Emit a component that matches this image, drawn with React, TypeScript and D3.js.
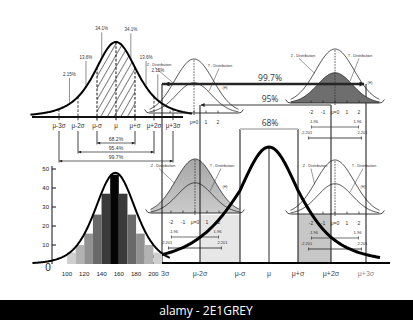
import React from "react";
import * as d3 from "d3";

// ---------- Histogram of observed values ----------
const binStarts = [100, 110, 120, 130, 140, 150, 160, 170, 180, 190, 200];
const binCounts = [6, 10, 16, 26, 37, 47, 37, 26, 16, 10, 6];
const binWidth = 10;
const histYTicks = [10, 20, 30, 40, 50];
const histXTicks = [100, 120, 140, 160, 180, 200];
const histFitMean = 156;
const histFitScale = 24;
const histFitDf = 6;
const histFitPeak = 48;

// ---------- Empirical rule curve ----------
const sigmaSteps = [-3, -2, -1, 0, 1, 2, 3];
const sigmaLabels = ["μ-3σ", "μ-2σ", "μ-σ", "μ", "μ+σ", "μ+2σ", "μ+3σ"];
const shareLabels = ["2.15%", "13.6%", "34.1%", "34.1%", "13.6%", "2.15%"];
const shareAt = [-2.45, -1.58, -0.75, 0.78, 1.58, 2.2];
const ruleSpans = [1, 2, 3];
const ruleSpanLabels = ["68.2%", "95.4%", "99.7%"];

// ---------- Main curve with coverage bands ----------
const mainLabels = ["3σ", "μ-2σ", "μ-σ", "μ", "μ+σ", "μ+2σ", "μ+3σ"];
const coverSpans = [3, 2, 1];
const coverLabels = ["99.7%", "95%", "68%"];

// ---------- Z / T distribution insets ----------
const zTicks = [-2, -1, 0, 1, 2];
const zTickLabels = ["-2", "-1", "μ=0", "1", "2"];
const zCritical = 1.96;
const tCritical = 2.201;
const zSpread = 1.6;
const tSpread = 1.45;
const tPeakRatio = 0.56;

const tShape = (z: number, df: number) => Math.pow(1 + (z * z) / df, -(df + 1) / 2);
const gauss = (z: number, s: number) => Math.exp(-(z * z) / (2 * s * s));

const SANS = "'Liberation Sans', Arial, sans-serif";

type PanelProps = {
  cx: number;
  base: number;
  fill: "none" | "t" | "z";
  crit: boolean;
  minLabel: number;
  zLab: [number, number];
  tLab: [number, number];
  hLab: [number, number];
};

function ZTPanel({ cx, base, fill, crit, minLabel, zLab, tLab, hLab }: PanelProps) {
  const x = d3.scaleLinear().domain([-1, 1]).range([cx - 12, cx + 12]);
  const y = d3.scaleLinear().domain([0, 1]).range([base, base - 54]);
  const zs = d3.range(-3.7, 3.7001, 0.05);
  const tallY = (z: number) => y(gauss(z, zSpread));
  const shortY = (z: number) => y(tPeakRatio * gauss(z, tSpread));
  const tallPath = d3.line<number>().x(x).y(tallY)(zs) || "";
  const shortPath = d3.line<number>().x(x).y(shortY)(zs) || "";
  const tallArea = d3.area<number>().x(x).y0(base).y1(tallY)(zs) || "";
  const shortArea = d3.area<number>().x(x).y0(base).y1(shortY)(zs) || "";
  const xl = x(-3.7);
  const xr = x(3.7);
  const zL = [cx + zLab[0], base + zLab[1]];
  const tL = [cx + tLab[0], base + tLab[1]];
  return (
    <g>
      {fill === "z" && <path d={tallArea} fill="url(#ztFill)" />}
      {fill === "t" && <path d={shortArea} fill="#6e6e6e" />}
      <line x1={xl} x2={xr} y1={base} y2={base} stroke="#222" strokeWidth={0.9} />
      <path d={tallPath} fill="none" stroke="#1a1a1a" strokeWidth={0.8} />
      <path d={shortPath} fill="none" stroke="#1a1a1a" strokeWidth={0.8} />
      <path d={`M${xl},${base} Q${xl - 3},${base + 0.5} ${xl - 5},${base - 3.5}`} fill="none" stroke="#1a1a1a" strokeWidth={0.8} />
      <path d={`M${xr},${base} Q${xr + 3},${base + 0.5} ${xr + 5},${base - 3.5}`} fill="none" stroke="#1a1a1a" strokeWidth={0.8} />
      <line x1={cx} x2={cx} y1={base + 2} y2={y(1)} stroke="#333" strokeWidth={0.8} strokeDasharray="1.6,1.2" />
      {zTicks.map((t) => (
        <line key={t} x1={x(t)} x2={x(t)} y1={base} y2={base - 2.5} stroke="#222" strokeWidth={0.7} />
      ))}
      {zTicks.map((t, i) =>
        t >= minLabel ? (
          <text key={"l" + t} x={x(t)} y={base + 11} fontSize={5} textAnchor="middle" fill="#333">
            {zTickLabels[i]}
          </text>
        ) : null
      )}
      <text x={zL[0]} y={zL[1]} fontSize={3.8} textAnchor="middle" fill="#333">Z - Distribution</text>
      <text x={tL[0]} y={tL[1]} fontSize={3.8} textAnchor="middle" fill="#333">T - Distribution</text>
      <line x1={zL[0] - 4} y1={zL[1] + 1.5} x2={x(-1.7)} y2={tallY(-1.7) + 1} stroke="#333" strokeWidth={0.5} />
      <line x1={tL[0] - 1} y1={tL[1] + 1.5} x2={x(1.25)} y2={shortY(1.25) - 1} stroke="#333" strokeWidth={0.5} />
      <text x={cx + hLab[0]} y={base + hLab[1]} fontSize={3.6} textAnchor="middle" fill="#333">(H)</text>
      {crit && (
        <g fill="#333" fontSize={4}>
          <text x={x(-zCritical) + 2} y={base + 20} textAnchor="middle">{"-" + zCritical}</text>
          <text x={x(zCritical) - 1} y={base + 20} textAnchor="middle">{String(zCritical)}</text>
          <line x1={x(-zCritical)} x2={x(zCritical)} y1={base + 24} y2={base + 24} stroke="#333" strokeWidth={0.7} />
          <line x1={x(-zCritical)} x2={x(-zCritical)} y1={base + 22.5} y2={base + 25.5} stroke="#333" strokeWidth={0.7} />
          <line x1={x(zCritical)} x2={x(zCritical)} y1={base + 22.5} y2={base + 25.5} stroke="#333" strokeWidth={0.7} />
          <text x={x(-tCritical) - 2} y={base + 31} textAnchor="middle">{"-" + tCritical}</text>
          <text x={x(tCritical) + 1} y={base + 31} textAnchor="middle">{String(tCritical)}</text>
          <line x1={x(-tCritical)} x2={x(tCritical)} y1={base + 35} y2={base + 35} stroke="#333" strokeWidth={0.9} />
          <line x1={x(-tCritical)} x2={x(-tCritical)} y1={base + 33.5} y2={base + 36.5} stroke="#333" strokeWidth={0.8} />
          <line x1={x(tCritical)} x2={x(tCritical)} y1={base + 33.5} y2={base + 36.5} stroke="#333" strokeWidth={0.8} />
        </g>
      )}
    </g>
  );
}

export default function App() {
  const W = 413;
  const H = 320;

  // Empirical rule curve (top left)
  const tlX = d3.scaleLinear().domain([-3, 3]).range([59, 173]);
  const tlBase = 117;
  const tlY = d3.scaleLinear().domain([0, 1]).range([tlBase, 42]);
  const tlF = (z: number) => tShape(z / 1.2, 3);
  const tlZs = d3.range(-4.5, 4.0001, 0.05);
  const tlPath = d3.line<number>().x(tlX).y((z) => tlY(tlF(z)))(tlZs) || "";
  const hatchZs = d3.range(-1, 1.0001, 0.02);
  const tlHatch = d3.area<number>().x(tlX).y0(tlBase).y1((z) => tlY(tlF(z)))(hatchZs) || "";
  const spanY = [143, 152, 161];

  // Main curve (bottom right)
  const mX = d3.scaleLinear().domain(sigmaSteps).range([162, 200, 240, 269, 298, 331, 366]);
  const mBase = 263;
  const mY = d3.scaleLinear().domain([0, 1]).range([mBase, 147]);
  const mF = (z: number) => tShape(z / 1.1, 4);
  const mZs = d3.range(-3.45, 3.4001, 0.05);
  const mPath = d3.line<number>().x(mX).y((z) => mY(mF(z)))(mZs) || "";
  const coverY = [84, 105, 129];
  const coverTop = (s: number) => (s === 0 ? mY(mF(0)) : coverY[coverSpans.indexOf(Math.abs(s))]);

  // Histogram (bottom left)
  const hX = d3.scaleLinear().domain([100, 210]).range([67, 162]);
  const hY = d3.scaleLinear().domain([0, 50]).range([264, 169]);
  const binShades = ["#cfcfcf", "#b2b2b2", "#929292", "#696969", "#3a3a3a", "#050505", "#3a3a3a", "#696969", "#929292", "#b2b2b2", "#cfcfcf"];
  const hZs = d3.range(60, 219.01, 1);
  const hPath =
    d3
      .line<number>()
      .x(hX)
      .y((v) => hY(histFitPeak * tShape((v - histFitMean) / histFitScale, histFitDf)))(hZs) || "";

  return (
    <svg
      width={W}
      height={H}
      viewBox={`0 0 ${W} ${H}`}
      style={{ position: "absolute", left: 0, top: 0, background: "#fff" }}
      fontFamily={SANS}
    >
      <defs>
        <pattern id="hatch" width={5.8} height={6} patternUnits="userSpaceOnUse" patternTransform="rotate(30)">
          <line x1={0} y1={0} x2={0} y2={6} stroke="#111" strokeWidth={1.1} />
        </pattern>
        <linearGradient id="ztFill" x1="0" y1="0" x2="0" y2="1">
          <stop offset="0%" stopColor="#a6a6a6" />
          <stop offset="100%" stopColor="#cbcbcb" />
        </linearGradient>
        <marker id="arrowBig" viewBox="0 0 10 10" refX={9} refY={5} markerWidth={7} markerHeight={5} markerUnits="userSpaceOnUse" orient="auto-start-reverse">
          <path d="M0,0 L10,5 L0,10 z" fill="#1e1e1e" />
        </marker>
        <marker id="arrowMid" viewBox="0 0 10 10" refX={9} refY={5} markerWidth={6} markerHeight={4} markerUnits="userSpaceOnUse" orient="auto-start-reverse">
          <path d="M0,0 L10,5 L0,10 z" fill="#222" />
        </marker>
        <marker id="arrowSmall" viewBox="0 0 10 10" refX={9} refY={5} markerWidth={4} markerHeight={3} markerUnits="userSpaceOnUse" orient="auto-start-reverse">
          <path d="M0,0 L10,5 L0,10 z" fill="#222" />
        </marker>
      </defs>

      {/* coverage bands under the main curve */}
      <rect x={mX(-2)} y={215} width={mX(-1) - mX(-2)} height={mBase - 215} fill="#e7e7e7" />
      <rect x={mX(1)} y={214} width={mX(2) - mX(1)} height={mBase - 214} fill="#c7c7c7" />

      {/* inset distributions inside the main chart */}
      <ZTPanel cx={195} base={213} fill="z" crit={true} minLabel={-2} zLab={[-32, -46]} tLab={[27, -46]} hLab={[30, -25]} />
      <ZTPanel cx={335} base={214} fill="none" crit={true} minLabel={-2} zLab={[-20, -47]} tLab={[29, -47]} hLab={[28, -26]} />

      {/* sigma verticals */}
      {sigmaSteps.map((s) => (
        <line key={s} x1={mX(s)} x2={mX(s)} y1={coverTop(s)} y2={mBase} stroke="#111" strokeWidth={s === 0 ? 0.9 : 1} />
      ))}

      {/* main curve */}
      <line x1={150} x2={390} y1={mBase} y2={mBase} stroke="#000" strokeWidth={1.8} />
      <path d={mPath} fill="none" stroke="#000" strokeWidth={3} />
      {sigmaSteps.map((s, i) => (
        <text
          key={"ml" + s}
          x={i === 0 ? mX(s) - 1 : mX(s)}
          y={276}
          fontSize={7}
          textAnchor={i === 0 ? "start" : "middle"}
          fill={i === sigmaSteps.length - 1 ? "#8a8a8a" : "#444"}
        >
          {mainLabels[i]}
        </text>
      ))}

      {/* histogram */}
      {binStarts.map((b, i) => (
        <rect
          key={b}
          x={hX(b)}
          y={hY(binCounts[i])}
          width={hX(b + binWidth) - hX(b)}
          height={hY(0) - hY(binCounts[i])}
          fill={binShades[i]}
        />
      ))}
      <line x1={52} x2={52} y1={166} y2={hY(0)} stroke="#111" strokeWidth={1} />
      {histYTicks.map((t) => (
        <g key={t}>
          <line x1={52} x2={56} y1={hY(t)} y2={hY(t)} stroke="#111" strokeWidth={1} />
          <text x={49} y={hY(t) + 2} fontSize={6} textAnchor="end" fill="#222">{t}</text>
        </g>
      ))}
      <text x={48} y={271} fontSize={10} textAnchor="middle" fill="#222">0</text>
      {histXTicks.map((t) => (
        <text key={t} x={hX(t)} y={276} fontSize={6.2} textAnchor="middle" fill="#222">{t}</text>
      ))}
      <path d={hPath} fill="none" stroke="#000" strokeWidth={2} />

      {/* empirical rule curve */}
      <path d={tlHatch} fill="url(#hatch)" />
      {sigmaSteps.map((s) => (
        <line
          key={"d" + s}
          x1={tlX(s)}
          x2={tlX(s)}
          y1={tlY(tlF(s))}
          y2={tlBase + 4}
          stroke="#111"
          strokeWidth={Math.abs(s) === 1 || s === 0 ? 1 : 0.8}
          strokeDasharray="2.6,1.6"
        />
      ))}
      <line x1={32} x2={183} y1={tlBase} y2={tlBase} stroke="#111" strokeWidth={1.8} />
      <path d={tlPath} fill="none" stroke="#000" strokeWidth={2} />
      {sigmaSteps.map((s, i) => (
        <text key={"tl" + s} x={tlX(s)} y={128} fontSize={6.3} textAnchor="middle" fill="#333">
          {sigmaLabels[i]}
        </text>
      ))}
      {shareAt.map((z, i) => {
        const cy = tlY(tlF(z));
        return (
          <g key={"sh" + i}>
            <text x={tlX(z)} y={cy - 28} fontSize={4.5} textAnchor="middle" fill="#333">{shareLabels[i]}</text>
            <line x1={tlX(z)} x2={tlX(z)} y1={cy - 26} y2={cy - 1} stroke="#444" strokeWidth={0.6} />
          </g>
        );
      })}
      {ruleSpans.map((k, i) => (
        <g key={"rs" + k}>
          <line x1={tlX(-k)} x2={tlX(-k)} y1={131} y2={spanY[i] + 1.5} stroke="#111" strokeWidth={0.8} />
          <line x1={tlX(k)} x2={tlX(k)} y1={131} y2={spanY[i] + 1.5} stroke="#111" strokeWidth={0.8} />
          <line
            x1={tlX(-k) + 0.5}
            x2={tlX(k) - 0.5}
            y1={spanY[i]}
            y2={spanY[i]}
            stroke="#222"
            strokeWidth={0.7}
            markerStart="url(#arrowSmall)"
            markerEnd="url(#arrowSmall)"
          />
          <text x={tlX(0)} y={spanY[i] - 1.8} fontSize={5.2} textAnchor="middle" fill="#333">{ruleSpanLabels[i]}</text>
        </g>
      ))}

      {/* upper inset distributions */}
      <ZTPanel cx={194} base={113} fill="none" crit={false} minLabel={0} zLab={[-35, -47]} tLab={[26, -46]} hLab={[31, -24]} />
      <ZTPanel cx={335} base={103} fill="t" crit={true} minLabel={-2} zLab={[-32, -46]} tLab={[25, -46]} hLab={[35, -19]} />

      {/* coverage brackets */}
      <line x1={mX(-3)} x2={mX(3) - 2} y1={coverY[0]} y2={coverY[0]} stroke="#262626" strokeWidth={2.4} markerEnd="url(#arrowBig)" />
      <line x1={mX(-3) + 14} x2={mX(-3) + 3} y1={coverY[0]} y2={coverY[0]} stroke="#262626" strokeWidth={0.1} markerEnd="url(#arrowBig)" />
      <line x1={mX(-2) + 1} x2={mX(2)} y1={coverY[1]} y2={coverY[1]} stroke="#3a3a3a" strokeWidth={1.2} markerStart="url(#arrowMid)" />
      <line x1={mX(-1)} x2={mX(1)} y1={coverY[2]} y2={coverY[2]} stroke="#c4c4c4" strokeWidth={2} />
      {coverSpans.map((k, i) => (
        <text key={"cv" + k} x={270} y={coverY[i] - 3} fontSize={8.5} textAnchor="middle" fill="#333" fontFamily="'Open Sans', sans-serif">
          {coverLabels[i]}
        </text>
      ))}

      {/* footer band */}
      <rect x={0} y={300} width={W} height={20} fill="#000" />
      <text x={206} y={315} fontSize={12} textAnchor="middle" fill="#fff" fontFamily="'Open Sans', sans-serif">
        alamy - 2E1GREY
      </text>
    </svg>
  );
}
